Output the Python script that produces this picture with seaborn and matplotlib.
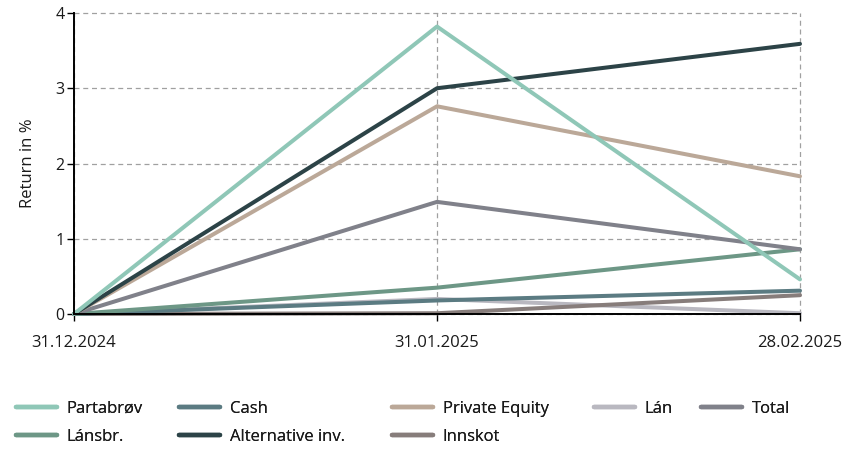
import matplotlib
matplotlib.use("Agg")
import matplotlib.pyplot as plt
import pandas as pd
import seaborn as sns

dates = ["31.12.2024", "31.01.2025", "28.02.2025"]
series_names = ["Partabrøv", "Lánsbr.", "Cash", "Alternative inv.",
                "Private Equity", "Innskot", "Lán", "Total"]
partabrov = [0.0, 3.82, 0.46]
lansbr = [0.0, 0.35, 0.86]
cash = [0.0, 0.18, 0.31]
alternative = [0.0, 3.0, 3.59]
private_equity = [0.0, 2.76, 1.83]
innskot = [0.0, 0.01, 0.25]
lan = [0.0, 0.20, 0.01]
total = [0.0, 1.49, 0.86]

colors = {
    "Partabrøv": "#8fc7b7",
    "Lánsbr.": "#6d9786",
    "Cash": "#5b7b82",
    "Alternative inv.": "#2c4347",
    "Private Equity": "#bba898",
    "Innskot": "#877d7b",
    "Lán": "#b9b8c0",
    "Total": "#80818a",
}

values = [partabrov, lansbr, cash, alternative, private_equity, innskot, lan, total]
rows = []
for name, vals in zip(series_names, values):
    for d, v in zip(dates, vals):
        rows.append({"Date": d, "Return": v, "Series": name})
df = pd.DataFrame(rows)

sns.set_style("white")
plt.rcParams["font.family"] = ["Open Sans", "DejaVu Sans"]

fig = plt.figure(figsize=(8.45, 4.49), dpi=100)
ax = fig.add_axes([74 / 845, 1 - 314 / 449, (800 - 74) / 845, (314 - 13) / 449])

draw_order = ["Lán", "Innskot", "Cash", "Lánsbr.", "Total",
              "Private Equity", "Alternative inv.", "Partabrøv"]
sns.lineplot(data=df, x="Date", y="Return", hue="Series", hue_order=draw_order,
             palette=colors, linewidth=2.9, ax=ax, legend=False, sort=False)
for ln in ax.lines:
    ln.set_clip_on(False)

ax.set_xlim(0, 2)
ax.set_ylim(0, 4)
ax.set_yticks([0, 1, 2, 3, 4])
ax.set_xticks([0, 1, 2])
ax.set_xticklabels(dates)
ax.grid(True, linestyle=(0, (4, 3)), color="#a0a0a0", linewidth=0.9)
for gl in ax.get_xgridlines() + ax.get_ygridlines():
    gl.set_clip_on(False)
ax.set_axisbelow(True)
for s in ["top", "right"]:
    ax.spines[s].set_visible(False)
for s in ["left", "bottom"]:
    ax.spines[s].set_color("black")
    ax.spines[s].set_linewidth(1.4)
ax.tick_params(axis="both", which="both", length=5, width=1, color="black",
               labelcolor="#1a1a1a")
ax.tick_params(axis="x", pad=10, bottom=True, labelsize=12)
ax.tick_params(axis="y", left=True, pad=2, labelsize=11.5)
ax.set_xlabel("")
ax.set_ylabel("Return in %", fontsize=12, color="#1a1a1a", labelpad=14)

# legend laid out in columns like the reference
legend_cols = [["Partabrøv", "Lánsbr."], ["Cash", "Alternative inv."],
               ["Private Equity", "Innskot"], ["Lán"], ["Total"]]
col_x = [11, 174, 387, 589, 696]
for names, x in zip(legend_cols, col_x):
    handles = [plt.Line2D([], [], color=colors[n], linewidth=3.2) for n in names]
    leg = fig.legend(handles, names, loc="upper left",
                     bbox_to_anchor=(x / 845, 1 - 396 / 449),
                     ncol=1, frameon=False, fontsize=12, handlelength=2.45,
                     handletextpad=0.6, labelspacing=0.7,
                     borderaxespad=0, borderpad=0.3)
    for t in leg.get_texts():
        t.set_color("#1a1a1a")
    fig.add_artist(leg)

fig.savefig("out.png", dpi=100)
